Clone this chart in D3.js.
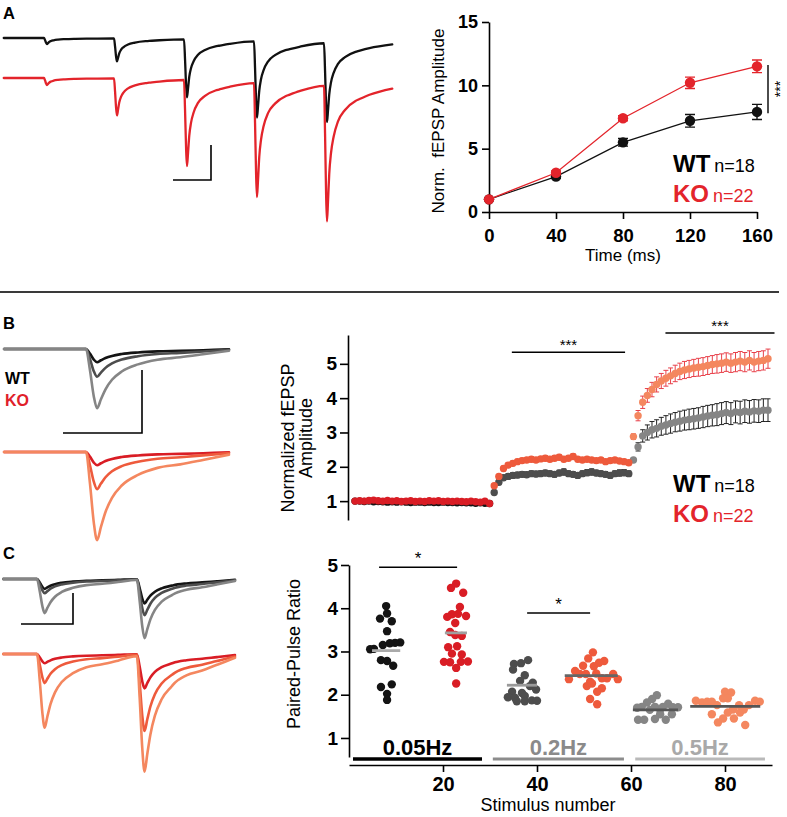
<!DOCTYPE html>
<html><head><meta charset="utf-8">
<script src="https://cdn.jsdelivr.net/npm/d3@7"></script>
<style>
html,body{margin:0;padding:0;background:#fff;}
svg{display:block;}
text{font-family:"Liberation Sans",Arial,Helvetica,sans-serif;}
</style></head>
<body><svg id="fig" width="787" height="817"></svg>
<script>
// ================= DATA =================
// Panel A – train facilitation
const timeTicksA = [0, 40, 80, 120, 160];
const ampTicksA = [0, 5, 10, 15];
const wtA = [1.0, 2.8, 5.5, 7.2, 7.9];
const wtAErr = [0.05, 0.15, 0.3, 0.5, 0.6];
const koA = [1.0, 3.1, 7.4, 10.2, 11.5];
const koAErr = [0.05, 0.15, 0.2, 0.45, 0.5];

// Example traces (normalised waveform templates: [ms after stimulus, fraction of peak])
const kernelA = [[0,0],[0.6,0.35],[1.2,0.8],[1.7,1],[2.3,0.85],[3,0.65],[4,0.5],[5.5,0.38],[8,0.27],[12,0.19],[18,0.13],[26,0.09],[40,0.05],[60,0.03],[80,0.02],[120,0.01],[200,0]];
const kernelB = [[0,0],[0.6,0.35],[1.2,0.8],[1.7,1],[2.3,0.85],[3,0.68],[4,0.52],[5.5,0.38],[8,0.26],[11,0.18],[14.5,0.14],[18,0.09],[22,0.03],[30,0.01],[40,0]];
const stimTimesA = [0, 40, 80, 120, 160];
const traceAmpA_WT = [0.086, 0.33, 0.83, 1.09, 1.13];   // mV
const traceAmpA_KO = [0.10, 0.53, 1.23, 1.63, 1.94];
const stimTimesB = [0];
const traceAmpB_WT = [[0.21], [0.44], [0.94]];          // 0.05 / 0.2 / 0.5 Hz
const traceAmpB_KO = [[0.21], [0.59], [1.40]];
const stimTimesC = [0, 22.2];
const traceAmpC_WT = [[0.16, 0.39], [0.23, 0.58], [0.55, 0.94]];
const traceAmpC_KO = [[0.15, 0.55], [0.47, 1.23], [1.19, 1.87]];

// Panel B – frequency facilitation (stimulus 1–90)
const ampTicksB = [1, 2, 3, 4, 5];
const wtB = [
 1.00,1.00,0.99,1.00,0.98,0.99,0.98,0.97,0.98,0.97,0.98,0.97,0.96,0.97,0.97,0.96,0.97,0.96,0.96,0.97,0.96,0.96,0.95,0.96,0.95,0.95,0.94,0.95,0.94,0.93,
 1.25,1.55,1.68,1.72,1.75,1.76,1.78,1.77,1.80,1.79,1.80,1.82,1.80,1.78,1.82,1.85,1.80,1.78,1.75,1.80,1.83,1.85,1.82,1.80,1.78,1.75,1.80,1.82,1.83,1.80,
 2.20,2.58,2.90,3.00,3.08,3.12,3.18,3.22,3.26,3.30,3.33,3.36,3.38,3.40,3.42,3.45,3.48,3.50,3.52,3.55,3.58,3.55,3.60,3.58,3.62,3.60,3.63,3.62,3.65,3.65];
const wtBErr = [
 0.02,0.02,0.02,0.02,0.02,0.02,0.02,0.02,0.02,0.02,0.02,0.02,0.02,0.02,0.02,0.02,0.02,0.02,0.02,0.02,0.02,0.02,0.02,0.02,0.02,0.02,0.02,0.02,0.02,0.02,
 0.05,0.07,0.08,0.08,0.08,0.08,0.08,0.08,0.08,0.08,0.08,0.08,0.08,0.08,0.08,0.09,0.08,0.08,0.08,0.08,0.09,0.09,0.08,0.08,0.08,0.08,0.08,0.09,0.09,0.08,
 0.05,0.12,0.18,0.22,0.24,0.25,0.26,0.27,0.28,0.28,0.29,0.29,0.30,0.30,0.30,0.31,0.31,0.31,0.32,0.32,0.32,0.32,0.32,0.33,0.33,0.33,0.33,0.33,0.33,0.33];
const koB = [
 1.00,1.01,1.00,1.02,1.03,1.01,1.00,1.02,1.00,1.01,0.99,1.00,1.01,0.99,1.00,0.99,1.01,1.00,1.01,0.99,1.00,0.99,1.00,0.99,0.98,1.00,0.98,0.97,1.00,0.93,
 1.45,1.72,1.95,2.05,2.10,2.15,2.18,2.20,2.22,2.20,2.23,2.25,2.22,2.25,2.28,2.22,2.25,2.30,2.22,2.20,2.22,2.20,2.18,2.20,2.15,2.18,2.20,2.17,2.15,2.12,
 2.88,3.49,3.88,4.08,4.25,4.40,4.50,4.58,4.65,4.72,4.78,4.82,4.85,4.88,4.90,4.92,4.95,4.98,5.00,5.02,5.05,5.02,5.05,5.08,5.05,5.10,5.05,5.08,5.10,5.15];
const koBErr = [
 0.02,0.02,0.02,0.02,0.02,0.02,0.02,0.02,0.02,0.02,0.02,0.02,0.02,0.02,0.02,0.02,0.02,0.02,0.02,0.02,0.02,0.02,0.02,0.02,0.02,0.02,0.02,0.02,0.02,0.02,
 0.05,0.06,0.07,0.07,0.07,0.07,0.07,0.07,0.08,0.07,0.07,0.08,0.07,0.07,0.08,0.07,0.07,0.08,0.07,0.07,0.07,0.07,0.07,0.07,0.07,0.07,0.07,0.07,0.07,0.07,
 0.08,0.15,0.18,0.20,0.21,0.22,0.22,0.23,0.23,0.24,0.24,0.25,0.25,0.25,0.26,0.26,0.26,0.26,0.27,0.27,0.27,0.27,0.28,0.28,0.28,0.28,0.28,0.28,0.28,0.28];
const sigB = [{x0: 34.8, x1: 59.2, y: 5.34, label: "***"}, {x0: 67.9, x1: 91.4, y: 5.90, label: "***"}];

// Panel C – paired-pulse ratio, [stimulus-number position, PPR]
const pprTicks = [1, 2, 3, 4, 5];
const stimTicksC = [20, 40, 60, 80];
const ppr005WT = [[7.9,4.05],[8.1,3.88],[6.6,3.76],[9.1,3.70],[8.1,3.47],[10.9,3.21],[9.8,3.20],[8.7,3.19],[7.2,3.15],[5.3,3.06],[4.5,3.05],[6.8,2.80],[8.1,2.78],[9.4,2.67],[9.1,2.24],[6.8,2.18],[8.1,2.02],[8.1,1.88]];
const ppr005KO = [[22.8,4.57],[21.7,4.47],[24.3,4.36],[23.6,4.03],[21.9,3.86],[23.2,3.87],[24.9,3.82],[20.9,3.80],[22.6,3.66],[21.5,3.45],[24.0,3.36],[22.6,3.38],[23.0,3.12],[21.1,3.10],[21.9,2.95],[24.0,2.93],[20.2,2.76],[21.5,2.75],[23.8,2.76],[25.3,2.77],[22.8,2.62],[22.8,2.26]];
const ppr02WT = [[38.1,2.80],[36.6,2.73],[35.1,2.71],[34.9,2.58],[37.4,2.45],[36.4,2.32],[39.1,2.28],[38.5,2.20],[39.8,2.12],[34.7,2.07],[36.8,2.04],[33.8,1.94],[35.3,1.93],[37.4,1.97],[35.7,1.85],[37.4,1.85],[38.9,1.87],[40.0,1.86]];
const ppr02KO = [[51.9,2.98],[50.9,2.84],[54.3,2.78],[53.2,2.74],[49.8,2.67],[52.1,2.66],[48.1,2.55],[49.1,2.48],[50.4,2.48],[52.6,2.49],[56.2,2.48],[46.8,2.36],[57.2,2.36],[54.9,2.38],[53.8,2.38],[51.3,2.30],[50.6,2.20],[51.7,2.26],[53.8,2.15],[52.8,2.07],[51.3,1.90],[52.8,1.78]];
const ppr05WT = [[65.5,1.99],[64.5,1.90],[63.4,1.82],[62.3,1.72],[61.3,1.70],[67.9,1.79],[68.9,1.71],[70.0,1.71],[64.0,1.65],[66.2,1.66],[65.1,1.72],[66.8,1.72],[68.7,1.55],[66.2,1.55],[61.5,1.42],[62.8,1.42],[65.1,1.44],[67.4,1.42]];
const ppr05KO = [[80.0,2.07],[81.3,2.05],[79.6,1.92],[80.6,1.92],[73.8,1.86],[75.1,1.82],[76.2,1.84],[77.2,1.84],[86.4,1.86],[87.4,1.84],[78.3,1.76],[83.0,1.76],[85.1,1.76],[84.0,1.66],[81.7,1.66],[83.2,1.59],[80.6,1.59],[77.2,1.55],[79.6,1.45],[81.9,1.45],[78.5,1.36],[84.3,1.30]];
const pprMeans = [{x0:4.9,x1:10.9,v:3.02},{x0:20.4,x1:25.1,v:3.43},{x0:33.6,x1:40.0,v:2.22},{x0:45.9,x1:57.2,v:2.44},{x0:60.4,x1:70.0,v:1.65},{x0:72.6,x1:87.5,v:1.73}];
const freqLabels = ["0.05Hz", "0.2Hz", "0.5Hz"];
const freqSpans = [[0.85, 28.3], [30.6, 58.5], [60.9, 88.5]];
const sigC = [{x0: 6.4, x1: 23.0, y: 4.95, label: "*"}, {x0: 37.9, x1: 51.3, y: 3.89, label: "*"}];

// ================= STYLE =================
const RED = "#e3242b";
const wtShades = ["#141414", "#4d4d4d", "#858585"];
const koShades = ["#d91d25", "#ee5a3c", "#f4875f"];
const wtErrCol = ["#111", "#222", "#222"];
const koErrCol = ["#d91d25", "#e8503a", "#e8404a"];
const freqBarCol = ["#000", "#8c8c8c", "#b9b9b9"];
const freqTxtCol = ["#000", "#8a8a8a", "#a9a9a9"];
const meanCol = ["#aaaaaa", "#a0a0a0", "#9a9a9a", "#666666", "#555555", "#555555"];
const fmtInt = d3.format("d");

const svg = d3.select("#fig");

function styleAxis(g, fs) {
  g.attr("font-family", null).attr("font-size", null);
  g.selectAll("path.domain").attr("stroke", "#000").attr("stroke-width", 1.6);
  g.selectAll(".tick line").attr("stroke", "#000").attr("stroke-width", 1.6);
  g.selectAll(".tick text").attr("fill", "#000").attr("font-size", fs).attr("font-weight", "bold");
}

// ---- waveform helpers ----
function kAt(k, t) {
  if (t <= k[0][0] || t >= k[k.length - 1][0]) return 0;
  for (let i = 1; i < k.length; i++) {
    if (t <= k[i][0]) {
      const a = k[i - 1], b = k[i];
      return a[1] + (b[1] - a[1]) * (t - a[0]) / (b[0] - a[0]);
    }
  }
  return 0;
}
function traceData(k, stims, amps, t0, t1) {
  const ts = new Set([t0, t1]);
  stims.forEach(s => k.forEach(p => { const t = s + p[0]; if (t > t0 && t < t1) ts.add(t); }));
  return Array.from(ts).sort((a, b) => a - b)
    .map(t => [t, d3.sum(stims, (s, i) => amps[i] * kAt(k, t - s))]);
}
function drawTrace(k, stims, amps, t0, t1, xs, ys, color, w) {
  const line = d3.line().x(d => xs(d[0])).y(d => ys(d[1])).curve(d3.curveMonotoneX);
  svg.append("path").attr("d", line(traceData(k, stims, amps, t0, t1)))
    .attr("fill", "none").attr("stroke", color).attr("stroke-width", w)
    .attr("stroke-linejoin", "round").attr("stroke-linecap", "round");
}
function scaleBar(x, y, w, h) {
  svg.append("path").attr("d", `M${x - w},${y}H${x}V${y - h}`)
    .attr("fill", "none").attr("stroke", "#000").attr("stroke-width", 1.6);
}

// ================= PANEL LABELS & SEPARATOR =================
[["A", 19], ["B", 329], ["C", 559]].forEach(([l, y]) =>
  svg.append("text").attr("x", 3).attr("y", y).attr("font-size", 16.5).attr("font-weight", "bold").text(l));
svg.append("line").attr("x1", 0).attr("x2", 779).attr("y1", 292).attr("y2", 292)
  .attr("stroke", "#3a3a3a").attr("stroke-width", 2);

// ================= PANEL A TRACES =================
const xTA = d3.scaleLinear().domain([0, 160]).range([44, 324]);
const yTA_WT = d3.scaleLinear().domain([0, 1]).range([38, 108]);
const yTA_KO = d3.scaleLinear().domain([0, 1]).range([78, 148]);
drawTrace(kernelA, stimTimesA, traceAmpA_WT, -23, 199, xTA, yTA_WT, "#111", 2.3);
drawTrace(kernelA, stimTimesA, traceAmpA_KO, -23, 199, xTA, yTA_KO, RED, 2.3);
scaleBar(211, 180, 38, 35);

// ================= PANEL A CHART =================
const xA = d3.scaleLinear().domain([0, 160]).range([489, 757]);
const yA = d3.scaleLinear().domain([0, 15]).range([212, 22]);
svg.append("g").attr("transform", "translate(0,212)")
  .call(d3.axisBottom(xA).tickValues(timeTicksA).tickFormat(fmtInt).tickSize(7).tickSizeOuter(0).tickPadding(10))
  .call(g => styleAxis(g, 18.5));
svg.append("g").attr("transform", "translate(489,0)")
  .call(d3.axisLeft(yA).tickValues(ampTicksA).tickFormat(fmtInt).tickSize(7).tickSizeOuter(0).tickPadding(4))
  .call(g => styleAxis(g, 18));
svg.append("text").attr("transform", "translate(444,121) rotate(-90)").attr("text-anchor", "middle")
  .attr("font-size", 17).style("white-space", "pre").text("Norm.  fEPSP Amplitude");
svg.append("text").attr("x", 623).attr("y", 261).attr("text-anchor", "middle").attr("font-size", 17).text("Time (ms)");

function lineSeriesA(vals, errs, col) {
  const pts = timeTicksA.map((t, i) => ({t, v: vals[i], e: errs[i]}));
  svg.append("path").attr("d", d3.line().x(d => xA(d.t)).y(d => yA(d.v))(pts))
    .attr("fill", "none").attr("stroke", col).attr("stroke-width", 1.3);
  const g = svg.append("g");
  pts.forEach(d => {
    g.append("path").attr("d", `M${xA(d.t)},${yA(d.v - d.e)}V${yA(d.v + d.e)}M${xA(d.t) - 5},${yA(d.v - d.e)}H${xA(d.t) + 5}M${xA(d.t) - 5},${yA(d.v + d.e)}H${xA(d.t) + 5}`)
      .attr("stroke", col).attr("stroke-width", 1.4).attr("fill", "none");
  });
  g.selectAll("circle").data(pts).join("circle").attr("cx", d => xA(d.t)).attr("cy", d => yA(d.v)).attr("r", 5.2).attr("fill", col);
}
lineSeriesA(wtA, wtAErr, "#111");
lineSeriesA(koA, koAErr, RED);
// significance
svg.append("line").attr("x1", 768).attr("x2", 768).attr("y1", yA(11.6)).attr("y2", yA(7.8)).attr("stroke", "#000").attr("stroke-width", 1.4);
svg.append("text").attr("transform", "translate(785,89) rotate(-90)").attr("text-anchor", "middle").attr("font-size", 14).text("***");
// legend
function legend(x, y, name, n, col) {
  const t = svg.append("text").attr("x", x).attr("y", y).attr("fill", col);
  t.append("tspan").attr("font-size", 24).attr("font-weight", "bold").text(name);
  t.append("tspan").attr("font-size", 18).attr("dx", 4).text(n);
}
legend(673, 172, "WT", "n=18", "#000");
legend(673, 202, "KO", "n=22", RED);

// ================= PANEL B TRACES =================
const xTB = d3.scaleLinear().domain([0, 10]).range([86, 151]);
const yTB_WT = d3.scaleLinear().domain([0, 1]).range([349, 412]);
const yTB_KO = d3.scaleLinear().domain([0, 1]).range([452, 515]);
traceAmpB_WT.forEach((a, i) => drawTrace(kernelB, stimTimesB, a, -12.6, 22, xTB, yTB_WT, wtShades[i], 2.6));
traceAmpB_KO.forEach((a, i) => drawTrace(kernelB, stimTimesB, a, -12.6, 22, xTB, yTB_KO, koShades[i], 2.6));
scaleBar(142, 433, 79, 63);
svg.append("text").attr("x", 5).attr("y", 384).attr("font-size", 16).attr("font-weight", "bold").text("WT");
svg.append("text").attr("x", 5).attr("y", 406).attr("font-size", 16).attr("font-weight", "bold").attr("fill", "#e0202a").text("KO");

// ================= PANEL B CHART =================
const xB = d3.scaleLinear().domain([1, 90]).range([355, 768]);
const yB = d3.scaleLinear().domain([0.45, 5.84]).range([520, 335]);
svg.append("g").attr("transform", "translate(348,0)")
  .call(d3.axisLeft(yB).tickValues(ampTicksB).tickFormat(fmtInt).tickSize(8).tickSizeOuter(0).tickPadding(3))
  .call(g => styleAxis(g, 19));
svg.append("text").attr("transform", "translate(294,438) rotate(-90)").attr("text-anchor", "middle").attr("font-size", 18).text("Normalized fEPSP");
svg.append("text").attr("transform", "translate(312,438) rotate(-90)").attr("text-anchor", "middle").attr("font-size", 18).text("Amplitude");

function seriesB(vals, errs, shades, errCols) {
  const pts = vals.map((v, i) => ({i: i + 1, v, e: errs[i], ph: Math.floor(i / 30)}));
  const g = svg.append("g");
  g.selectAll("path").data(pts).join("path")
    .attr("d", d => { const x = xB(d.i), y0 = yB(d.v - d.e), y1 = yB(d.v + d.e);
      return `M${x},${y0}V${y1}M${x - 2.5},${y0}H${x + 2.5}M${x - 2.5},${y1}H${x + 2.5}`; })
    .attr("stroke", d => errCols[d.ph]).attr("stroke-width", 1).attr("fill", "none");
  g.selectAll("circle").data(pts).join("circle")
    .attr("cx", d => xB(d.i)).attr("cy", d => yB(d.v)).attr("r", 3.7).attr("fill", d => shades[d.ph]);
}
seriesB(wtB, wtBErr, wtShades, wtErrCol);
seriesB(koB, koBErr, koShades, koErrCol);
sigB.forEach(s => {
  svg.append("line").attr("x1", xB(s.x0)).attr("x2", xB(s.x1)).attr("y1", yB(s.y)).attr("y2", yB(s.y)).attr("stroke", "#000").attr("stroke-width", 1.5);
  svg.append("text").attr("x", (xB(s.x0) + xB(s.x1)) / 2).attr("y", yB(s.y) - 2).attr("text-anchor", "middle").attr("font-size", 15).text(s.label);
});
legend(673, 492, "WT", "n=18", "#000");
legend(673, 522, "KO", "n=22", RED);

// ================= PANEL C TRACES =================
const xTC = d3.scaleLinear().domain([0, 10]).range([37, 82]);
const yTC_WT = d3.scaleLinear().domain([0, 1]).range([579, 641]);
const yTC_KO = d3.scaleLinear().domain([0, 1]).range([654, 716]);
traceAmpC_WT.forEach((a, i) => drawTrace(kernelB, stimTimesC, a, -7.5, 44, xTC, yTC_WT, wtShades[i], 2.6));
traceAmpC_KO.forEach((a, i) => drawTrace(kernelB, stimTimesC, a, -7.5, 44, xTC, yTC_KO, koShades[i], 2.6));
scaleBar(73, 624, 52, 31);

// ================= PANEL C CHART =================
const xC = d3.scaleLinear().domain([0, 90]).range([349, 772]);
const yC = d3.scaleLinear().domain([0.56, 5]).range([757, 565]);
svg.append("g").attr("transform", "translate(0,765)")
  .call(d3.axisBottom(xC).tickValues(stimTicksC).tickFormat(fmtInt).tickSize(7).tickSizeOuter(0).tickPadding(5))
  .call(g => styleAxis(g, 20));
svg.append("g").attr("transform", "translate(349,0)")
  .call(d3.axisLeft(yC).tickValues(pprTicks).tickFormat(fmtInt).tickSize(8).tickSizeOuter(0).tickPadding(3))
  .call(g => styleAxis(g, 19));
svg.append("text").attr("transform", "translate(300,654) rotate(-90)").attr("text-anchor", "middle").attr("font-size", 18).text("Paired-Pulse Ratio");
svg.append("text").attr("x", 548).attr("y", 811).attr("text-anchor", "middle").attr("font-size", 18).text("Stimulus number");

freqSpans.forEach((s, i) => {
  svg.append("line").attr("x1", xC(s[0])).attr("x2", xC(s[1])).attr("y1", 759).attr("y2", 759)
    .attr("stroke", freqBarCol[i]).attr("stroke-width", i === 0 ? 3.6 : 3.2);
  svg.append("text").attr("x", xC((s[0] + s[1]) / 2)).attr("y", 755).attr("text-anchor", "middle")
    .attr("font-size", 22).attr("font-weight", "bold").attr("fill", freqTxtCol[i]).text(freqLabels[i]);
});
const groupsC = [[ppr005WT, wtShades[0]], [ppr005KO, koShades[0]], [ppr02WT, wtShades[1]], [ppr02KO, koShades[1]], [ppr05WT, wtShades[2]], [ppr05KO, koShades[2]]];
groupsC.forEach(([pts, col]) => {
  svg.append("g").selectAll("circle").data(pts).join("circle")
    .attr("cx", d => xC(d[0])).attr("cy", d => yC(d[1])).attr("r", 4.2).attr("fill", col);
});
pprMeans.forEach((m, i) => {
  svg.append("line").attr("x1", xC(m.x0)).attr("x2", xC(m.x1)).attr("y1", yC(m.v)).attr("y2", yC(m.v))
    .attr("stroke", meanCol[i]).attr("stroke-width", 2.8);
});
sigC.forEach(s => {
  svg.append("line").attr("x1", xC(s.x0)).attr("x2", xC(s.x1)).attr("y1", yC(s.y)).attr("y2", yC(s.y)).attr("stroke", "#000").attr("stroke-width", 1.5);
  svg.append("text").attr("x", (xC(s.x0) + xC(s.x1)) / 2).attr("y", yC(s.y) - 3).attr("text-anchor", "middle").attr("font-size", 17).text(s.label);
});
</script></body></html>
